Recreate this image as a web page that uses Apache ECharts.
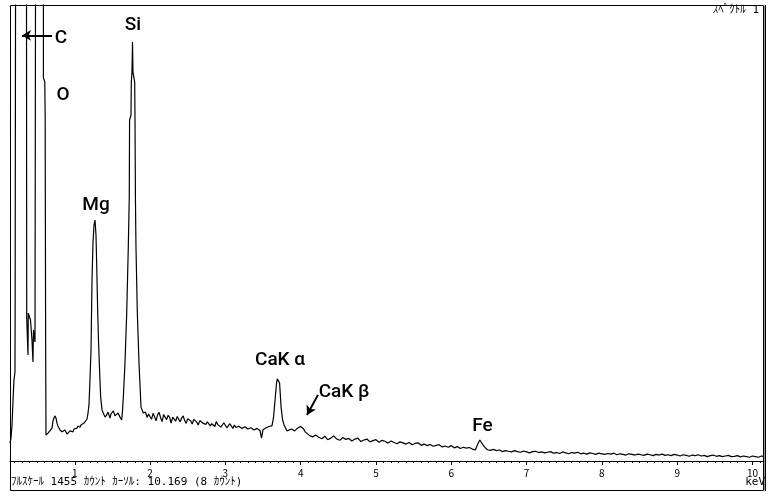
<!DOCTYPE html>
<html>
<head>
<meta charset="utf-8">
<title>スペクトル 1</title>
<script src="https://cdn.jsdelivr.net/npm/echarts@6.0.0/dist/echarts.min.js"></script>
<style>
    html, body { margin: 0; padding: 0; background: #fff; }
    #chart { width: 774px; height: 498px; }
</style>
</head>
<body>
<div id="chart"></div>
<script>
// フルスケール (カウント)
const FULL_SCALE = 1455;

// エネルギー (keV) - 読み取り値
const energyKeV = [
    0.140, 0.153, 0.167, 0.186, 0.193, 0.206, 0.208, 0.220, 0.222, 0.290,
    0.355, 0.362, 0.372, 0.379, 0.383, 0.406, 0.412, 0.432, 0.445, 0.452,
    0.472, 0.483, 0.488, 0.540, 0.582, 0.584, 0.602, 0.607, 0.613, 0.618,
    0.631, 0.645, 0.671, 0.698, 0.711, 0.724, 0.738, 0.751, 0.764, 0.777,
    0.804, 0.817, 0.831, 0.857, 0.870, 0.884, 0.897, 0.910, 0.937, 0.963,
    0.977, 0.990, 1.016, 1.030, 1.043, 1.070, 1.083, 1.096, 1.123, 1.149,
    1.163, 1.176, 1.189, 1.202, 1.216, 1.229, 1.242, 1.256, 1.269, 1.282,
    1.291, 1.305, 1.315, 1.326, 1.344, 1.362, 1.379, 1.402, 1.424, 1.441,
    1.468, 1.481, 1.495, 1.512, 1.534, 1.557, 1.574, 1.601, 1.623, 1.634,
    1.645, 1.667, 1.690, 1.711, 1.724, 1.728, 1.747, 1.751, 1.760, 1.767,
    1.773, 1.796, 1.800, 1.806, 1.813, 1.831, 1.853, 1.880, 1.910, 1.92,
    1.94, 1.96, 1.98, 2.00, 2.02, 2.04, 2.06, 2.08, 2.10, 2.12,
    2.14, 2.16, 2.18, 2.20, 2.22, 2.24, 2.26, 2.28, 2.30, 2.32,
    2.34, 2.36, 2.38, 2.40, 2.42, 2.44, 2.46, 2.48, 2.50, 2.52,
    2.54, 2.56, 2.58, 2.60, 2.62, 2.64, 2.66, 2.68, 2.70, 2.72,
    2.74, 2.76, 2.78, 2.80, 2.82, 2.84, 2.86, 2.88, 2.90, 2.92,
    2.94, 2.96, 2.98, 3.00, 3.02, 3.04, 3.06, 3.08, 3.10, 3.12,
    3.14, 3.16, 3.18, 3.20, 3.22, 3.24, 3.26, 3.28, 3.30, 3.32,
    3.34, 3.36, 3.38, 3.40, 3.42, 3.44, 3.46, 3.48, 3.50, 3.52,
    3.54, 3.56, 3.58, 3.60, 3.62, 3.64, 3.66, 3.68, 3.69, 3.70,
    3.71, 3.72, 3.73, 3.74, 3.76, 3.78, 3.80, 3.82, 3.84, 3.88,
    3.92, 3.96, 4.00, 4.02, 4.04, 4.06, 4.08, 4.12, 4.16, 4.20,
    4.24, 4.28, 4.32, 4.36, 4.40, 4.44, 4.48, 4.52, 4.56, 4.60,
    4.64, 4.68, 4.72, 4.76, 4.80, 4.84, 4.88, 4.92, 4.96, 5.00,
    5.04, 5.08, 5.12, 5.16, 5.20, 5.24, 5.28, 5.32, 5.36, 5.40,
    5.44, 5.48, 5.52, 5.56, 5.60, 5.64, 5.68, 5.72, 5.76, 5.80,
    5.84, 5.88, 5.92, 5.96, 6.00, 6.04, 6.08, 6.12, 6.16, 6.20,
    6.24, 6.28, 6.30, 6.32, 6.34, 6.36, 6.38, 6.40, 6.42, 6.44,
    6.46, 6.48, 6.52, 6.56, 6.60, 6.64, 6.68, 6.72, 6.76, 6.80,
    6.84, 6.88, 6.92, 6.96, 7.00, 7.04, 7.08, 7.12, 7.16, 7.20,
    7.24, 7.28, 7.32, 7.36, 7.40, 7.44, 7.48, 7.52, 7.56, 7.60,
    7.64, 7.68, 7.72, 7.76, 7.80, 7.84, 7.88, 7.92, 7.96, 8.00,
    8.04, 8.08, 8.12, 8.16, 8.20, 8.24, 8.28, 8.32, 8.36, 8.40,
    8.44, 8.48, 8.52, 8.56, 8.60, 8.64, 8.68, 8.72, 8.76, 8.80,
    8.84, 8.88, 8.92, 8.96, 9.00, 9.04, 9.08, 9.12, 9.16, 9.20,
    9.24, 9.28, 9.32, 9.36, 9.40, 9.44, 9.48, 9.52, 9.56, 9.60,
    9.64, 9.68, 9.72, 9.76, 9.80, 9.84, 9.88, 9.92, 9.96, 10.00,
    10.04, 10.08, 10.12, 10.14
];

// カウント (C, O はフルスケール外)
const counts = [
    57, 73, 115, 227, 258, 284, 450, 450, 3000, 3000,
    3000, 456, 456, 338, 472, 472, 450, 386, 316, 418,
    380, 380, 3000, 3000, 3000, 1222, 1210, 1100, 400, 83,
    77, 89, 86, 105, 128, 137, 144, 137, 121, 112,
    99, 105, 93, 89, 99, 96, 86, 89, 96, 99,
    93, 102, 108, 105, 112, 108, 115, 112, 121, 124,
    134, 153, 179, 258, 354, 578, 696, 753, 769, 721,
    632, 472, 386, 313, 204, 163, 153, 140, 147, 156,
    137, 150, 144, 160, 144, 140, 153, 140, 131, 160,
    204, 313, 472, 683, 842, 1088, 1104, 1209, 1241, 1337,
    1241, 1209, 1088, 833, 683, 472, 313, 172, 153, 148,
    156, 139, 150, 146, 133, 152, 141, 128, 147, 155,
    138, 126, 148, 150, 132, 146, 139, 121, 140, 145,
    127, 142, 148, 125, 137, 144, 129, 120, 135, 139,
    128, 118, 133, 136, 124, 115, 129, 132, 121, 127,
    117, 125, 128, 112, 119, 123, 110, 126, 116, 120,
    108, 113, 122, 117, 106, 110, 119, 113, 104, 115,
    107, 101, 111, 113, 104, 98, 109, 111, 102, 96,
    106, 108, 99, 95, 104, 106, 97, 73, 100, 96,
    106, 101, 110, 104, 113, 140, 195, 249, 262, 265,
    262, 249, 211, 172, 131, 115, 105, 96, 93, 102,
    96, 105, 110, 108, 102, 93, 88, 81, 77, 83,
    76, 71, 79, 68, 73, 80, 70, 66, 75, 69,
    72, 64, 70, 73, 62, 67, 70, 61, 65, 68,
    60, 66, 63, 57, 64, 59, 55, 61, 58, 54,
    59, 52, 56, 58, 50, 54, 49, 53, 47, 50,
    52, 45, 48, 44, 49, 42, 46, 40, 44, 41,
    43, 38, 41, 35, 47, 58, 67, 63, 52, 45,
    40, 36, 34, 37, 33, 35, 30, 33, 31, 29,
    33, 30, 28, 32, 29, 26, 30, 31, 27, 29,
    26, 28, 30, 25, 27, 24, 29, 26, 23, 27,
    25, 28, 23, 25, 22, 26, 24, 21, 25, 23,
    21, 24, 22, 25, 20, 23, 21, 19, 23, 21,
    19, 22, 20, 18, 22, 20, 17, 21, 19, 22,
    18, 20, 17, 21, 19, 16, 20, 18, 15, 19,
    17, 20, 16, 18, 14, 17, 19, 15, 17, 14,
    16, 18, 14, 15, 17, 13, 16, 14, 12, 16,
    14, 12, 16, 15
];

// 目盛りラベル (keV)
const majorTicks = [1, 2, 3, 4, 5, 6, 7, 8, 9, 10];

// ピーク名
const peakNames = ['C', 'O', 'Mg', 'Si', 'CaK α', 'CaK β', 'Fe'];

// ラベル位置 [keV, カウント]
const labelAnchors = [
    [0.817, 1350], [0.844, 1168], [1.282, 817], [1.773, 1391],
    [3.726, 322], [4.576, 220], [6.415, 110]
];

// 0.1 keV ごとの小目盛り
const minorTicks = [];
for (let i = 2; i <= 101; i++) minorTicks.push(i / 10);

const LABEL_FONT = 'Roboto, "Liberation Sans", sans-serif';
const JP_FONT = '"DejaVu Sans Mono", "Noto Sans CJK JP", sans-serif';

const chart = echarts.init(document.getElementById('chart'));

const option = {
    animation: false,
    backgroundColor: '#fff',
    grid: { left: 10, top: 5, width: 753, height: 456, show: false },
    xAxis: [
        {
            type: 'value', min: 0.14, max: 10.14, position: 'bottom',
            axisLine: { show: true, lineStyle: { color: '#000', width: 1 } },
            axisTick: { show: true, customValues: minorTicks, length: 2, lineStyle: { color: '#000' } },
            axisLabel: { show: false },
            splitLine: { show: false }
        },
        {
            type: 'value', min: 0.14, max: 10.14, position: 'bottom',
            axisLine: { show: false },
            axisTick: { show: true, customValues: majorTicks, length: 4, lineStyle: { color: '#000' } },
            axisLabel: {
                show: true, customValues: majorTicks, margin: 7,
                color: '#000', fontSize: 10, fontFamily: '"Noto Sans CJK JP", sans-serif'
            },
            splitLine: { show: false }
        }
    ],
    yAxis: { type: 'value', min: 0, max: FULL_SCALE, show: false },
    series: [{
        type: 'line',
        data: energyKeV.map((e, i) => [e, counts[i]]),
        showSymbol: false,
        symbol: 'none',
        silent: true,
        clip: true,
        lineStyle: { color: '#000', width: 1.2 },
        markPoint: {
            silent: true,
            symbol: 'circle',
            symbolSize: 1,
            itemStyle: { color: 'rgba(0,0,0,0)' },
            label: {
                show: true, position: 'inside', formatter: '{b}',
                color: '#000', fontSize: 19, fontWeight: 500, fontFamily: LABEL_FONT
            },
            data: peakNames.map((n, i) => ({ name: n, coord: labelAnchors[i] }))
        },
        markLine: {
            silent: true,
            symbol: ['none', 'arrow'],
            symbolSize: [8, 9],
            label: { show: false },
            lineStyle: { color: '#000', width: 2, type: 'solid' },
            data: [
                [{ coord: [0.698, 1358] }, { coord: [0.299, 1358] }],
                [{ coord: [4.230, 211] }, { coord: [4.084, 147] }]
            ]
        }
    }],
    graphic: [
        {
            type: 'rect', silent: true,
            shape: { x: 10.5, y: 5.5, width: 753, height: 485 },
            style: { fill: 'none', stroke: '#000', lineWidth: 1 }
        },
        {
            type: 'line', silent: true,
            shape: { x1: 764.5, y1: 5, x2: 764.5, y2: 491 },
            style: { stroke: '#999', lineWidth: 1 }
        },
        {
            type: 'line', silent: true,
            shape: { x1: 765.5, y1: 5, x2: 765.5, y2: 491 },
            style: { stroke: '#000', lineWidth: 1 }
        },
        {
            type: 'text', silent: true, left: 11, top: 477,
            style: {
                text: 'ﾌﾙｽｹｰﾙ 1455 ｶｳﾝﾄ ｶｰｿﾙ: 10.169 (8 ｶｳﾝﾄ)',
                fill: '#000', fontSize: 11, fontFamily: JP_FONT
            }
        },
        {
            type: 'text', silent: true, right: 9, top: 477,
            style: { text: 'keV', fill: '#000', fontSize: 11, fontFamily: JP_FONT }
        },
        {
            type: 'text', silent: true, right: 15, top: 5,
            style: { text: 'ｽﾍﾟｸﾄﾙ 1', fill: '#000', fontSize: 11, fontFamily: JP_FONT }
        }
    ]
};

chart.setOption(option);
window.addEventListener('resize', () => chart.resize());
</script>
</body>
</html>
